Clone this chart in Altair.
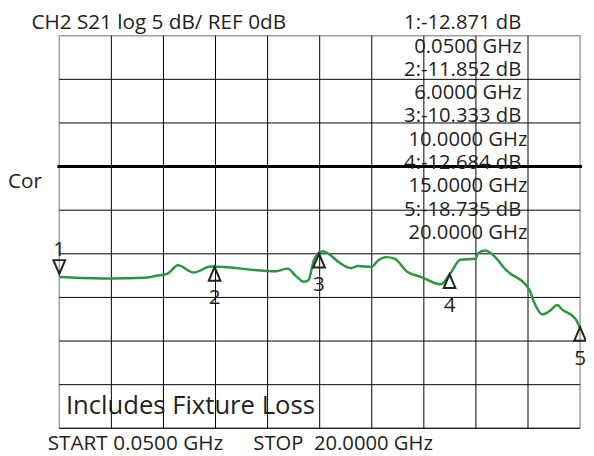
import altair as alt
import pandas as pd

# ---- trace data ----
freq_ghz = [0.05, 2.0, 3.3, 3.7, 4.2, 4.6, 5.2, 5.85, 8.35, 8.8, 9.1, 9.42, 9.6, 9.8,
            10.12, 10.37, 10.75, 11.2, 11.5, 12.0, 12.26, 12.58, 12.89, 13.39, 13.9,
            14.66, 15.03, 15.41, 15.98, 16.1, 16.36, 16.61, 17.17, 18.06, 18.25, 18.56,
            18.82, 19.13, 19.32, 19.82, 20.0]
s21_db = [-12.65, -12.82, -12.75, -12.56, -12.26, -11.32, -12.14, -11.45, -12.0, -11.7,
          -12.5, -13.2, -13.0, -10.76, -9.7, -10.0, -10.95, -11.63, -11.4, -11.5, -10.76,
          -10.38, -10.56, -12.08, -12.64, -13.5, -12.26, -10.68, -10.56, -9.93, -9.63,
          -10.0, -11.88, -14.14, -15.64, -16.96, -16.59, -15.87, -16.4, -17.45, -18.5]

# ---- markers ----
marker_ids = ["1", "2", "3", "4", "5"]
marker_freq = [0.05, 6.0, 10.0, 15.0, 20.0]
marker_db = [-12.871, -11.852, -10.333, -12.684, -18.735]

# ---- texts ----
readout_lines = ["1:-12.871 dB", "0.0500 GHz", "2:-11.852 dB", "6.0000 GHz",
                 "3:-10.333 dB", "10.0000 GHz", "4:-12.684 dB", "15.0000 GHz",
                 "5:-18.735 dB", "20.0000 GHz"]
header_text = "CH2 S21 log 5 dB/ REF 0dB"
side_text = "Cor"
note_text = "Includes Fixture Loss"
start_text = "START 0.0500 GHz"
stop_text = "STOP\u00a0 20.0000 GHz"

start_ghz, stop_ghz = 0.05, 20.0
ref_db, db_per_div = 0.0, 5.0
y_top, y_bottom = 15.0, -30.0

W, H = 528, 398
FONT = "Open Sans"
TXT = "#231f20"

x_grid = [start_ghz + k * (stop_ghz - start_ghz) / 10 for k in range(1, 10)]
y_grid = [y_bottom + k * db_per_div for k in range(0, 9)]

x_scale = alt.Scale(domain=[start_ghz, stop_ghz], nice=False, zero=False)
y_scale = alt.Scale(domain=[y_bottom, y_top], nice=False, zero=False)

trace_df = pd.DataFrame({"f": freq_ghz, "db": s21_db})
mk_df = pd.DataFrame({"id": marker_ids, "f": marker_freq, "db": marker_db})
one = pd.DataFrame({"a": [0]})

X = lambda: alt.X("f:Q", scale=x_scale, axis=None)
Y = lambda: alt.Y("db:Q", scale=y_scale, axis=None)

vgrid = alt.Chart(pd.DataFrame({"f": x_grid})).mark_rule(
    color="#000", strokeWidth=1).encode(x=X())
hgrid = alt.Chart(pd.DataFrame({"db": y_grid})).mark_rule(
    color="#000", strokeWidth=1).encode(y=Y())

trace = alt.Chart(trace_df).mark_line(color="#2b9640", strokeWidth=2.5,
                                      interpolate="monotone").encode(x=X(), y=Y())

ref_line = alt.Chart(pd.DataFrame({"db": [ref_db]})).mark_rule(
    color="#000", strokeWidth=3).encode(
    y=Y(), x=alt.value(-2), x2=alt.value(W + 2),
)

up = mk_df[mk_df["id"] != "1"]
down = mk_df[mk_df["id"] == "1"]

tri_up = alt.Chart(up).mark_point(
    shape="M0,-1L-0.85,1L0.85,1Z", size=196, filled=False, stroke="#222",
    strokeWidth=2, opacity=1, yOffset=4).encode(x=X(), y=Y())
tri_down = alt.Chart(down).mark_point(
    shape="M0,1L-0.85,-1L0.85,-1Z", size=196, filled=False, stroke="#222",
    strokeWidth=2, opacity=1, yOffset=-12).encode(x=X(), y=Y())
lab_up = alt.Chart(up).mark_text(font=FONT, fontSize=21, color=TXT, dy=29,
                                 baseline="middle", align="center").encode(
    x=X(), y=Y(), text="id:N")
lab_down = alt.Chart(down).mark_text(font=FONT, fontSize=21, color=TXT, dy=-29,
                                     baseline="middle", align="center").encode(
    x=X(), y=Y(), text="id:N")


def label(text, x, y, size=21, align="left"):
    return alt.Chart(one).mark_text(text=text, font=FONT, fontSize=size, color=TXT,
                                    align=align, baseline="middle").encode(
        x=alt.value(x), y=alt.value(y))


layers = [vgrid, hgrid, trace, ref_line, tri_up, tri_down, lab_up, lab_down]
for i, line in enumerate(readout_lines):
    cx = 409 if i % 2 == 0 else 414.3
    layers.append(label(line, cx, -12.5 + i * 23.6, size=20.5, align="center"))
layers.append(label(header_text, -28.3, -13))
layers.append(label(side_text, -52, 148.7))
layers.append(label(note_text, 6.7, 375.3, size=26))
layers.append(label(start_text, -11.7, 413.7))
layers.append(label(stop_text, 196.7, 413.7, size=20.5))

chart = alt.layer(*layers).properties(
    width=W, height=H,
    autosize=alt.AutoSizeParams(type="none"),
    padding={"left": 52, "top": 25, "right": 6, "bottom": 25},
    background="white",
).configure_view(stroke="#a0a0a0", strokeWidth=1.5)

chart.save("out.html", embed_options={"renderer": "svg", "actions": False})
